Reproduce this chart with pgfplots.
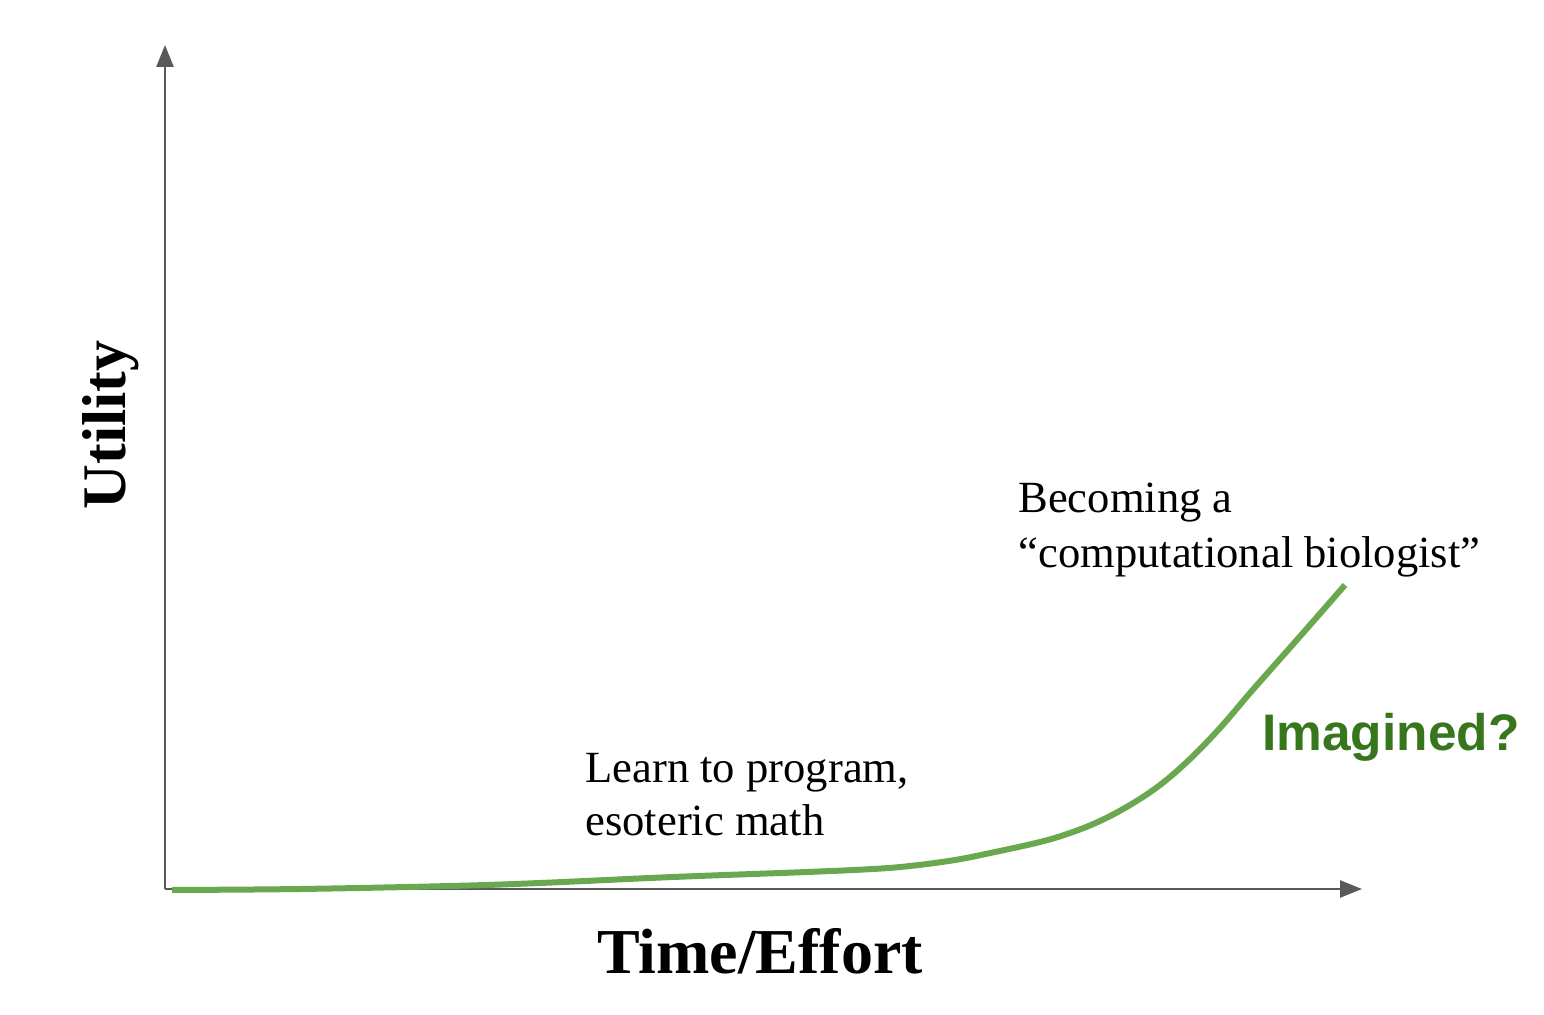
\documentclass[border=0pt]{standalone}
\usepackage{pgfplots}
\pgfplotsset{compat=1.18}
\usepackage{fontspec}
\setmainfont{Liberation Serif}
\newfontfamily\arialbf{Liberation Sans}
\usetikzlibrary{arrows.meta}
\definecolor{curvegreen}{HTML}{6AA84F}
\definecolor{textgreen}{HTML}{38761D}
\definecolor{axgray}{HTML}{595959}
\begin{document}
\begin{tikzpicture}[x=0.5pt,y=0.5pt]
\path (0,0) rectangle (1544,1014);
\begin{axis}[
  at={(165*0.5pt,125*0.5pt)}, anchor=origin,
  scale only axis, width=1197*0.5pt, height=844*0.5pt,
  xmin=0, xmax=1197, ymin=0, ymax=844,
  axis lines=left,
  axis line style={draw=axgray, line width=1.3pt, -{Triangle[length=11pt,width=8.5pt]}},
  xtick=\empty, ytick=\empty,
  clip=false,
]
\addplot[curvegreen, line width=3pt, smooth, tension=0.6] coordinates {
(7,-1) (135,0) (285,3) (375,6) (508,12) (642,17) (708,20) (745,23) (790,29) (830,37) (875,47) (905,56) (935,68) (965,84) (995,104) (1025,130) (1055,161) (1085,196) (1115,230) (1145,264) (1180,304)
};
\node[anchor=base west, inner sep=0pt, font=\fontsize{22.3pt}{26.5pt}\selectfont, align=left] at (axis cs:420,54) {Learn to program,\\esoteric math};
\node[anchor=base west, inner sep=0pt, font=\fontsize{22.3pt}{27pt}\selectfont, align=left] at (axis cs:853,322) {Becoming a\\“computational biologist”};
\node[anchor=base west, font=\arialbf\bfseries\fontsize{25.7pt}{30pt}\selectfont, text=textgreen, inner sep=0pt] at (axis cs:1097,139) {Imagined?};
\node[anchor=base, font=\bfseries\fontsize{32pt}{38pt}\selectfont, inner sep=0pt] at (axis cs:595,-84) {Time/Effort};
\node[anchor=base, rotate=90, font=\bfseries\fontsize{31pt}{38pt}\selectfont, inner sep=0pt] at (axis cs:-40,464) {Utility};
\end{axis}
\end{tikzpicture}
\end{document}
